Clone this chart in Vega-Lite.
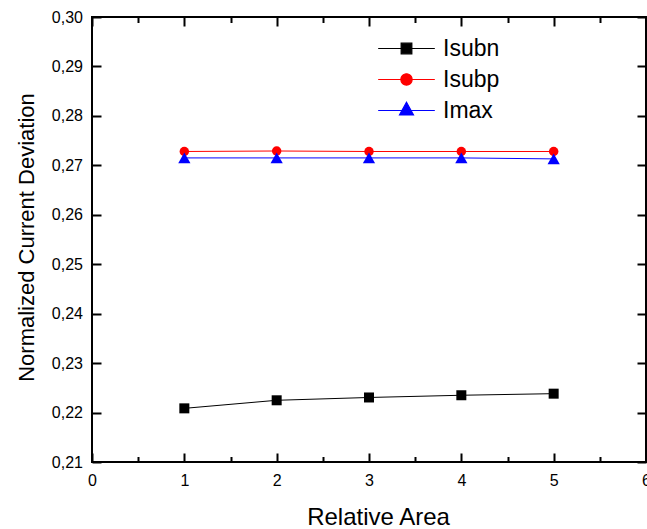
{
  "$schema": "https://vega.github.io/schema/vega-lite/v6.json",
  "autosize": "none",
  "width": 554,
  "height": 445,
  "padding": {"left": 92, "top": 17, "right": 1, "bottom": 67},
  "background": "white",
  "config": {
    "view": {"stroke": "black", "strokeWidth": 2},
    "axis": {
      "domain": false,
      "ticks": false,
      "grid": true,
      "gridColor": "black",
      "gridWidth": 2,
      "gridOpacity": 1,
      "labelFlush": false,
      "labelOverlap": false,
      "labelFont": "Liberation Sans",
      "labelFontSize": 16,
      "labelColor": "black",
      "titleFont": "Liberation Sans",
      "titleFontWeight": "normal",
      "titleColor": "black"
    },
    "legend": {
      "labelFont": "Liberation Sans",
      "labelColor": "black"
    }
  },
  "data": {
    "values": [
      {"series": "Isubn", "x": 1, "y": 0.22085},
      {"series": "Isubn", "x": 2, "y": 0.22248},
      {"series": "Isubn", "x": 3, "y": 0.22305},
      {"series": "Isubn", "x": 4, "y": 0.2235},
      {"series": "Isubn", "x": 5, "y": 0.22382},
      {"series": "Isubp", "x": 1, "y": 0.2728},
      {"series": "Isubp", "x": 2, "y": 0.2729},
      {"series": "Isubp", "x": 3, "y": 0.2728},
      {"series": "Isubp", "x": 4, "y": 0.2728},
      {"series": "Isubp", "x": 5, "y": 0.2728},
      {"series": "Imax", "x": 1, "y": 0.2715},
      {"series": "Imax", "x": 2, "y": 0.2715},
      {"series": "Imax", "x": 3, "y": 0.2715},
      {"series": "Imax", "x": 4, "y": 0.2715},
      {"series": "Imax", "x": 5, "y": 0.2713}
    ]
  },
  "layer": [
    {
      "transform": [{"filter": "datum.series === 'Isubn'"}],
      "mark": {"type": "line", "color": "black", "strokeWidth": 1},
      "encoding": {
        "x": {"field": "x", "type": "quantitative",
          "scale": {"domain": [0, 6], "nice": false, "zero": false},
          "axis": {"orient": "bottom",
            "values": [0, 0.5, 1, 1.5, 2, 2.5, 3, 3.5, 4, 4.5, 5, 5.5, 6],
            "gridDash": {"condition": {"test": "datum.value % 1 !== 0", "value": [5.5, 434, 5.5, 1000]}, "value": [9, 427, 9, 1000]},
            "labelExpr": "datum.value % 1 === 0 ? format(datum.value, 'd') : ''",
            "labelPadding": 23, "labelBaseline": "alphabetic",
            "title": "Relative Area", "titleFontSize": 24, "titleBaseline": "alphabetic", "titleY": 62, "titleX": 286}},
        "y": {"field": "y", "type": "quantitative",
          "scale": {"domain": [0.21, 0.30], "nice": false, "zero": false},
          "axis": {"orient": "left",
            "values": [0.21, 0.215, 0.22, 0.225, 0.23, 0.235, 0.24, 0.245, 0.25, 0.255, 0.26, 0.265, 0.27, 0.275, 0.28, 0.285, 0.29, 0.295, 0.30],
            "gridDash": {"condition": {"test": "round(datum.value * 1000) % 10 !== 0", "value": [5.5, 543, 5.5, 1000]}, "value": [9, 536, 9, 1000]},
            "labelExpr": "round(datum.value * 1000) % 10 === 0 ? replace(format(datum.value, '.2f'), '.', ',') : ''",
            "labelPadding": 9.5,
            "title": "Normalized Current Deviation", "titleFontSize": 22, "titleBaseline": "alphabetic", "titleX": -59, "titleY": 220}}
      }
    },
    {
      "transform": [{"filter": "datum.series === 'Isubp'"}],
      "mark": {"type": "line", "color": "#ff0000", "strokeWidth": 1},
      "encoding": {
        "x": {"field": "x", "type": "quantitative"},
        "y": {"field": "y", "type": "quantitative"}
      }
    },
    {
      "transform": [{"filter": "datum.series === 'Imax'"}],
      "mark": {"type": "line", "color": "#0000ff", "strokeWidth": 1},
      "encoding": {
        "x": {"field": "x", "type": "quantitative"},
        "y": {"field": "y", "type": "quantitative"}
      }
    },
    {
      "transform": [{"filter": "datum.series === 'Isubn'"}],
      "mark": {"type": "point", "shape": "square", "filled": true, "color": "black", "size": 100, "opacity": 1},
      "encoding": {
        "x": {"field": "x", "type": "quantitative"},
        "y": {"field": "y", "type": "quantitative"}
      }
    },
    {
      "transform": [{"filter": "datum.series === 'Isubp'"}],
      "mark": {"type": "point", "shape": "circle", "filled": true, "color": "#ff0000", "size": 90, "opacity": 1},
      "encoding": {
        "x": {"field": "x", "type": "quantitative"},
        "y": {"field": "y", "type": "quantitative"}
      }
    },
    {
      "transform": [{"filter": "datum.series === 'Imax'"}],
      "mark": {"type": "point", "shape": "triangle-up", "filled": true, "color": "#0000ff", "size": 150, "opacity": 1},
      "encoding": {
        "x": {"field": "x", "type": "quantitative"},
        "y": {"field": "y", "type": "quantitative"}
      }
    },
    {
      "transform": [{"filter": "false"}],
      "mark": {"type": "point", "filled": true, "size": 121, "opacity": 1, "strokeWidth": 1.2},
      "encoding": {
        "fill": {"field": "series", "type": "nominal",
          "scale": {"domain": ["Isubn", "Isubp", "Imax"], "range": ["#000000", "#ff0000", "#0000ff"]},
          "legend": {"orient": "none", "legendX": 303, "legendY": 20, "title": null, "labelFontSize": 23, "symbolSize": 121, "labelOffset": 25, "rowPadding": 7, "padding": 0, "symbolStrokeWidth": 1.2}},
        "stroke": {"field": "series", "type": "nominal",
          "scale": {"domain": ["Isubn", "Isubp", "Imax"], "range": ["#000000", "#ff0000", "#0000ff"]},
          "legend": {"orient": "none", "legendX": 303, "legendY": 20, "title": null, "labelFontSize": 23, "symbolSize": 121, "labelOffset": 25, "rowPadding": 7, "padding": 0, "symbolStrokeWidth": 1.2}},
        "shape": {"field": "series", "type": "nominal",
          "scale": {"domain": ["Isubn", "Isubp", "Imax"], "range": [
            "M-5.15,0H5.15M-0.97,-0.97H0.97V0.97H-0.97Z",
            "M-5.15,0H5.15M1.03,0A1.03,1.03 0 1,1 -1.03,0A1.03,1.03 0 1,1 1.03,0Z",
            "M-5.15,0H5.15M0,-1.5L1.27,0.8H-1.27Z"
          ]},
          "legend": {"orient": "none", "legendX": 303, "legendY": 20, "title": null, "labelFontSize": 23, "symbolSize": 121, "labelOffset": 25, "rowPadding": 7, "padding": 0, "symbolStrokeWidth": 1.2}}
      }
    }
  ]
}
